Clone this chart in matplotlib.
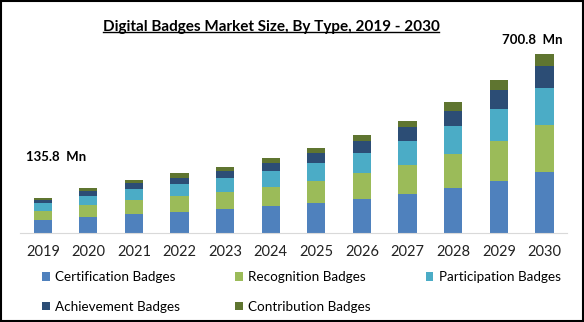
import matplotlib.pyplot as plt
from matplotlib.lines import Line2D
from matplotlib.patches import Rectangle
import numpy as np

plt.rcParams["font.family"] = ["Lato", "DejaVu Sans"]

years = ["2019", "2020", "2021", "2022", "2023", "2024",
         "2025", "2026", "2027", "2028", "2029", "2030"]
certification = [52, 63, 75, 82, 94, 106, 117, 133, 151, 176, 204, 239]
recognition = [36, 47, 55, 63, 67, 74, 86, 102, 117, 132, 157, 183]
participation = [28, 36, 43, 47, 55, 64, 70, 78, 91, 110, 125, 145]
achievement = [12, 18, 24, 24, 27, 30, 39, 47, 55, 60, 73, 86]
contribution = [8, 12, 12, 17, 17, 20, 20, 23, 26, 34, 39, 47]
series_names = ["Certification Badges", "Recognition Badges", "Participation Badges",
                "Achievement Badges", "Contribution Badges"]
colors = ["#4F81BD", "#9BBB59", "#4BACC6", "#2C4D75", "#5F7530"]
first_label = "135.8  Mn"
last_label = "700.8  Mn"

fig = plt.figure(figsize=(5.84, 3.22), dpi=100)
ax = fig.add_axes([0.0342, 0.2764, 0.937, 0.568])

x = np.arange(len(years))
bottom = np.zeros(len(years))
handles = []
for vals, name, c in zip([certification, recognition, participation, achievement, contribution],
                         series_names, colors):
    b = ax.bar(x, vals, 0.4, bottom=bottom, color=c, label=name)
    handles.append(b)
    bottom += np.array(vals)

ax.set_xlim(-0.5, len(years) - 0.5)
ax.set_ylim(0, 716)
ax.set_xticks(x)
ax.set_xticklabels(years, fontsize=10.5, color="#222222")
ax.tick_params(axis="x", length=0, pad=9)
ax.set_yticks([])
for s in ["top", "right", "left"]:
    ax.spines[s].set_visible(False)
ax.spines["bottom"].set_color("#D9D9D9")

# value callouts for first and last year
ax.annotate(first_label, (0, bottom[0]), xytext=(-12, 29.5), textcoords="offset points",
            fontsize=9.5, fontweight="bold", ha="left", va="center")
ax.annotate(last_label, (len(years) - 1, bottom[-1]), xytext=(-8.6, 10), textcoords="offset points",
            fontsize=9.5, fontweight="bold", ha="center", va="center")

# title with underline
title = fig.text(0.464, 0.917, "Digital Badges Market Size, By Type, 2019 - 2030",
                 fontsize=11, fontweight="bold", ha="center", va="center")
fig.canvas.draw()
bb = title.get_window_extent().transformed(fig.transFigure.inverted())
fig.add_artist(Line2D([bb.x0, bb.x1], [bb.y0 + 0.004, bb.y0 + 0.004],
                      transform=fig.transFigure, color="black", lw=1))

# legend laid out in rows like the original
order = [0, 3, 1, 4, 2]
fig.legend([handles[i] for i in order], [series_names[i] for i in order],
           ncol=3, loc="center", bbox_to_anchor=(0.516, 0.093), frameon=False,
           fontsize=9.7, handlelength=0.55, handleheight=0.55, handletextpad=0.4,
           columnspacing=4.1, labelspacing=1.3)

fig.add_artist(Rectangle((0.002, 0.003), 0.996, 0.994, transform=fig.transFigure,
                         fill=False, edgecolor="black", lw=1.5))

fig.savefig("out.png", dpi=100)
